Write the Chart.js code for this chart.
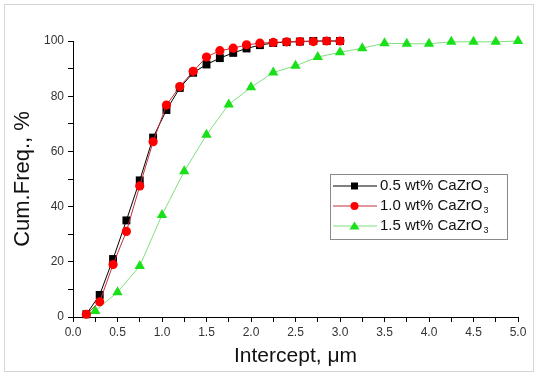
<!DOCTYPE html>
<html>
<head>
<meta charset="utf-8">
<title>Cumulative frequency</title>
<script src="https://cdn.jsdelivr.net/npm/chart.js@4.4.1/dist/chart.umd.min.js"></script>
<style>
    body { margin: 0; background: #ffffff; }
    #wrap { position: relative; width: 538px; height: 376px; }
    #frame { position: absolute; left: 4px; top: 4px; width: 530px; height: 368px; border: 1px solid #d6d6d6; box-sizing: border-box; pointer-events: none; }
</style>
</head>
<body>
<div id="wrap">
    <canvas id="freqChart" width="538" height="376"></canvas>
    <div id="frame"></div>
</div>
<script>
// Intercept lengths (um) and cumulative frequency (%)
const xFine = [0.15, 0.3, 0.45, 0.6, 0.75, 0.9, 1.05, 1.2, 1.35, 1.5, 1.65, 1.8, 1.95, 2.1, 2.25, 2.4, 2.55, 2.7, 2.85, 3.0];
const xCoarse = [0.25, 0.5, 0.75, 1.0, 1.25, 1.5, 1.75, 2.0, 2.25, 2.5, 2.75, 3.0, 3.25, 3.5, 3.75, 4.0, 4.25, 4.5, 4.75, 5.0];

const freq05 = [1, 8, 21, 35, 49.5, 65, 75, 83, 88.5, 91.5, 93.8, 95.7, 97.3, 98.5, 99.3, 99.6, 99.8, 100, 100, 100];
const freq10 = [1, 5.5, 19, 31, 47.5, 63.5, 76.8, 83.5, 89, 94.2, 96.5, 97.4, 98.6, 99.2, 99.5, 99.7, 99.8, 99.8, 100, 100];
const freq15 = [2.2, 9, 18.5, 37, 52.8, 66, 77, 83.2, 88.6, 91, 94.2, 95.9, 97.4, 99.2, 99, 99, 99.7, 99.7, 99.7, 100];

const seriesNames = ['0.5 wt% CaZrO', '1.0 wt% CaZrO', '1.5 wt% CaZrO'];
const xTickLabels = ['0.0', '0.5', '1.0', '1.5', '2.0', '2.5', '3.0', '3.5', '4.0', '4.5', '5.0'];
const yTickLabels = ['0', '20', '40', '60', '80', '100'];

// Pair up x and y values for the linear x axis
function toPoints(xs, ys) {
    return xs.map((x, i) => ({ x: x, y: ys[i] }));
}

const styles = [
    { line: '#000000', fill: '#000000', shape: 'rect', radius: 5.6 },
    { line: '#c0303a', fill: '#ff0000', shape: 'circle', radius: 4.6 },
    { line: '#7ee07e', fill: '#19e019', shape: 'triangle', radius: 6 }
];

// Legend box with line + marker samples and subscript 3
const legendBox = {
    id: 'legendBox',
    afterDraw(chart) {
        const ctx = chart.ctx;
        ctx.save();
        ctx.strokeStyle = '#8a8a8a';
        ctx.lineWidth = 1;
        ctx.strokeRect(330.5, 174.5, 177, 65);

        seriesNames.forEach((name, i) => {
            const y = 186 + i * 20;
            const st = styles[i];
            ctx.strokeStyle = st.line;
            ctx.lineWidth = 1;
            ctx.beginPath();
            ctx.moveTo(333, y);
            ctx.lineTo(377, y);
            ctx.stroke();

            ctx.fillStyle = st.fill;
            ctx.beginPath();
            if (st.shape === 'rect') {
                ctx.rect(351, y - 3.5, 7, 7);
            } else if (st.shape === 'circle') {
                ctx.arc(354.5, y, 4, 0, Math.PI * 2);
            } else {
                ctx.moveTo(354.5, y - 4.5);
                ctx.lineTo(359.5, y + 3.5);
                ctx.lineTo(349.5, y + 3.5);
                ctx.closePath();
            }
            ctx.fill();

            ctx.fillStyle = '#111111';
            ctx.font = '15px "Liberation Sans", Arial, sans-serif';
            ctx.textBaseline = 'middle';
            ctx.textAlign = 'left';
            ctx.fillText(name, 380, y);
            const w = ctx.measureText(name).width;
            ctx.font = '9px "Liberation Sans", Arial, sans-serif';
            ctx.fillText('3', 380 + w + 1, y + 5);
        });
        ctx.restore();
    }
};

function createFreqChart() {
    const ctx = document.getElementById('freqChart').getContext('2d');
    const sets = [toPoints(xFine, freq05), toPoints(xFine, freq10), toPoints(xCoarse, freq15)];

    new Chart(ctx, {
        type: 'line',
        data: {
            datasets: sets.map((pts, i) => ({
                label: seriesNames[i],
                data: pts,
                borderColor: styles[i].line,
                borderWidth: 1,
                backgroundColor: styles[i].fill,
                pointStyle: styles[i].shape,
                pointRadius: styles[i].radius,
                pointBackgroundColor: styles[i].fill,
                pointBorderColor: styles[i].fill,
                pointBorderWidth: 0,
                tension: 0,
                clip: false,
                order: i === 1 ? 0 : (i === 0 ? 1 : 2)
            }))
        },
        options: {
            responsive: false,
            animation: false,
            layout: { padding: { top: 41, right: 20, left: 0, bottom: 0 } },
            plugins: {
                legend: { display: false },
                tooltip: { enabled: false }
            },
            scales: {
                x: {
                    type: 'linear',
                    min: 0,
                    max: 5,
                    afterFit: function(scale) { scale.height = 59; },
                    border: { display: true, color: '#000000', width: 1 },
                    grid: { display: true, drawOnChartArea: false, drawTicks: true, tickLength: 5, tickColor: '#000000' },
                    ticks: {
                        stepSize: 0.25,
                        autoSkip: false,
                        maxRotation: 0,
                        padding: 3,
                        color: '#333333',
                        font: { family: '"Liberation Sans", Arial, sans-serif', size: 12 },
                        callback: function(value) {
                            const k = Math.round(value * 2);
                            if (Math.abs(value * 2 - k) > 1e-6) return '';
                            return xTickLabels[k];
                        }
                    },
                    title: {
                        display: true,
                        text: 'Intercept, \u03bcm',
                        color: '#111111',
                        padding: { top: 0, bottom: 7 },
                        font: { family: '"Liberation Sans", Arial, sans-serif', size: 21 }
                    }
                },
                y: {
                    min: 0,
                    max: 100,
                    afterFit: function(scale) { scale.width = 73; },
                    border: { display: true, color: '#000000', width: 1 },
                    grid: { display: true, drawOnChartArea: false, drawTicks: true, tickLength: 5, tickColor: '#000000' },
                    ticks: {
                        stepSize: 10,
                        padding: 4,
                        color: '#333333',
                        font: { family: '"Liberation Sans", Arial, sans-serif', size: 12 },
                        callback: function(value) {
                            if (value % 20 !== 0) return '';
                            return yTickLabels[value / 20];
                        }
                    },
                    title: {
                        display: true,
                        text: 'Cum.Freq., %',
                        color: '#111111',
                        padding: { top: 10, bottom: 0 },
                        font: { family: '"Liberation Sans", Arial, sans-serif', size: 22 }
                    }
                }
            }
        },
        plugins: [legendBox]
    });
}

document.addEventListener('DOMContentLoaded', () => {
    createFreqChart();
});
</script>
</body>
</html>
